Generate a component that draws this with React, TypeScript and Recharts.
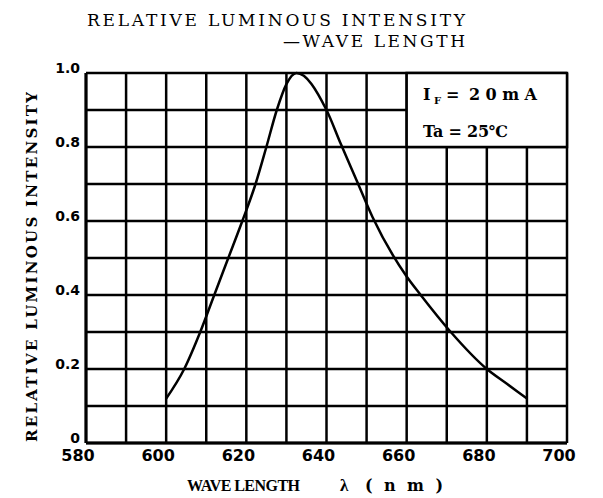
import React from "react";
import {
  LineChart,
  Line,
  XAxis,
  YAxis,
  CartesianGrid,
  ReferenceArea,
} from "recharts";

const wavelength = [
  600, 604.5, 608.5, 612, 615.5, 619, 622.3, 625, 627.6, 630, 632.5, 640,
  643.5, 647.5, 651.5, 660, 663.5, 671, 680, 685, 690,
];
const intensity = [
  0.12, 0.2, 0.3, 0.4, 0.5, 0.6, 0.7, 0.8, 0.9, 0.97, 1.0, 0.9, 0.81, 0.71,
  0.61, 0.45, 0.4, 0.3, 0.2, 0.16, 0.12,
];

const xTicks = [580, 590, 600, 610, 620, 630, 640, 650, 660, 670, 680, 690, 700];
const yTicks = [0, 0.1, 0.2, 0.3, 0.4, 0.5, 0.6, 0.7, 0.8, 0.9, 1.0];

const title1 = "RELATIVE LUMINOUS INTENSITY";
const title2 = "—WAVE LENGTH";
const yTitle = "RELATIVE LUMINOUS INTENSITY";
const xTitle = "WAVE LENGTH";
const condTemp = "Ta = 25℃";

const data = wavelength.map((w, i) => ({ w, v: intensity[i] }));

const fmtX = (v: number) => (v % 20 === 0 ? String(v) : "");
const fmtY = (v: number) => {
  const k = Math.round(v * 10);
  if (k % 2 !== 0) return "";
  return k === 0 ? "0" : v.toFixed(1);
};

const serif = "'Liberation Serif', 'DejaVu Serif', serif";
const wideSerif = "'DejaVu Serif', serif";

export default function App() {
  return (
    <div
      style={{
        position: "absolute",
        left: 0,
        top: 0,
        width: 603,
        height: 498,
        background: "#fff",
      }}
    >
      <LineChart
        width={603}
        height={498}
        data={data}
        margin={{ top: 73, right: 36, bottom: 0, left: 0 }}
      >
        <CartesianGrid stroke="#000" strokeWidth={2.5} />
        <XAxis
          dataKey="w"
          type="number"
          domain={[580, 700]}
          ticks={xTicks}
          tickFormatter={fmtX}
          height={55}
          tickSize={0}
          tickMargin={7}
          axisLine={{ stroke: "#000", strokeWidth: 3 }}
          tick={{
            fill: "#000",
            fontSize: 16,
            fontWeight: "bold",
            fontFamily: "'DejaVu Sans', sans-serif",
            dx: -8,
          }}
        />
        <YAxis
          type="number"
          domain={[0, 1]}
          ticks={yTicks}
          tickFormatter={fmtY}
          width={86}
          tickSize={0}
          tickMargin={6}
          axisLine={{ stroke: "#000", strokeWidth: 3 }}
          tick={{
            fill: "#000",
            fontSize: 14,
            fontWeight: "bold",
            fontFamily: "'DejaVu Sans', sans-serif",
            dy: -5,
          }}
        />
        <ReferenceArea
          x1={660}
          x2={700}
          y1={0.8}
          y2={1.0}
          fill="#fff"
          fillOpacity={1}
          stroke="#000"
          strokeWidth={2.5}
        />
        <Line
          type="monotone"
          dataKey="v"
          stroke="#000"
          strokeWidth={2.5}
          dot={false}
          activeDot={false}
          isAnimationActive={false}
        />
      </LineChart>

      <svg
        width={603}
        height={498}
        style={{ position: "absolute", left: 0, top: 0, pointerEvents: "none" }}
      >
        <text
          x={87}
          y={26}
          fontFamily={wideSerif}
          fontSize={17}
          textLength={378}
          lengthAdjust="spacing"
          fill="#000"
        >
          {title1}
        </text>
        <text
          x={283}
          y={47}
          fontFamily={wideSerif}
          fontSize={17}
          textLength={182}
          lengthAdjust="spacing"
          fill="#000"
        >
          {title2}
        </text>
        <text
          transform="translate(37 442) rotate(-90)"
          fontFamily={wideSerif}
          fontWeight="bold"
          fontSize={15}
          textLength={350}
          lengthAdjust="spacing"
          fill="#000"
        >
          {yTitle}
        </text>
        <text
          x={187}
          y={491}
          fontFamily={serif}
          fontWeight="bold"
          fontSize={16}
          textLength={113}
          lengthAdjust="spacing"
          fill="#000"
        >
          {xTitle}
        </text>
        <text x={340} y={491} fontFamily={serif} fontWeight="bold" fontSize={17} fill="#000">
          λ
        </text>
        <text
          x={365}
          y={491}
          fontFamily={wideSerif}
          fontWeight="bold"
          fontSize={16}
          textLength={78}
          lengthAdjust="spacing"
          fill="#000"
        >
          (nm)
        </text>
        <text x={423} y={100} fontFamily={wideSerif} fontWeight="bold" fontSize={16} fill="#000">
          I
        </text>
        <text x={434} y={104} fontFamily={wideSerif} fontWeight="bold" fontSize={10} fill="#000">
          F
        </text>
        <text x={446} y={100} fontFamily={wideSerif} fontWeight="bold" fontSize={16} fill="#000">
          =
        </text>
        <text
          x={469}
          y={100}
          fontFamily={wideSerif}
          fontWeight="bold"
          fontSize={16}
          textLength={68}
          lengthAdjust="spacing"
          fill="#000"
        >
          20mA
        </text>
        <text
          x={423}
          y={137}
          fontFamily={wideSerif}
          fontWeight="bold"
          fontSize={16}
          textLength={85}
          lengthAdjust="spacing"
          fill="#000"
        >
          {condTemp}
        </text>
      </svg>
    </div>
  );
}
